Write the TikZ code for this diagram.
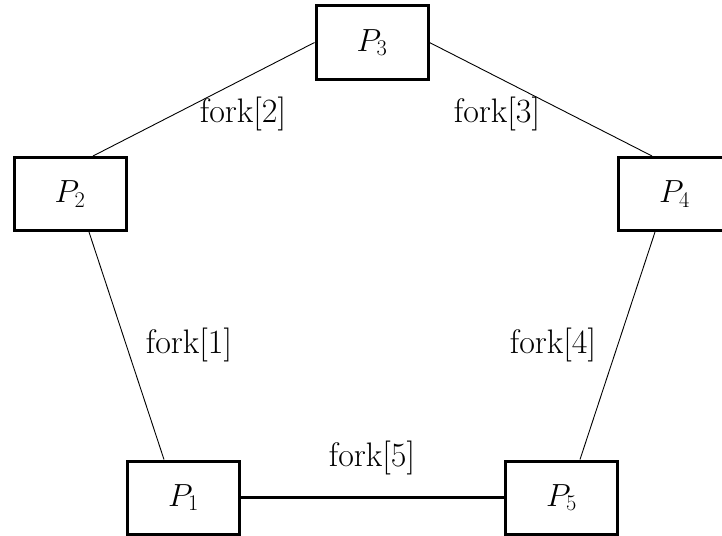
\RequirePackage{fix-cm}
\documentclass[tikz,border=0pt]{standalone}
\begin{document}
\begin{tikzpicture}[x=1pt,y=-1pt,
  proc/.style={draw,line width=3pt,minimum width=112pt,minimum height=73pt,inner sep=0pt,font=\fontsize{32}{38}\selectfont},
  lbl/.style={font=\fontsize{34}{40}\selectfont,inner sep=0pt},
  thin/.style={line width=0.9pt},
  thick/.style={line width=3pt}]
\clip (0,0) rectangle (722,535);
\useasboundingbox (0,0) rectangle (722,535);
\node[proc] (P3) at (372,42.5) {$P_3$};
\node[proc] (P2) at (70,194) {$P_2$};
\node[proc] (P4) at (674.5,194) {$P_4$};
\node[proc] (P1) at (183.5,497.5) {$P_1$};
\node[proc] (P5) at (561.5,497.5) {$P_5$};
\draw[thin] (P3.west) -- ([xshift=23pt]P2.north);
\draw[thin] (P3.east) -- ([xshift=-22.5pt]P4.north);
\draw[thin] ([xshift=19pt]P2.south) -- ([xshift=-19.5pt]P1.north);
\draw[thin] ([xshift=-19.5pt]P4.south) -- ([xshift=18.5pt]P5.north);
\draw[thick] (P1.east) -- (P5.west);
\node[lbl] (f2) at (243,114) {fork[2]};
\node[lbl] (f3) at (497,114) {fork[3]};
\node[lbl] (f1) at (189,345) {fork[1]};
\node[lbl] (f4) at (553,345) {fork[4]};
\node[lbl] (f5) at (372,458) {fork[5]};
\end{tikzpicture}
\end{document}
